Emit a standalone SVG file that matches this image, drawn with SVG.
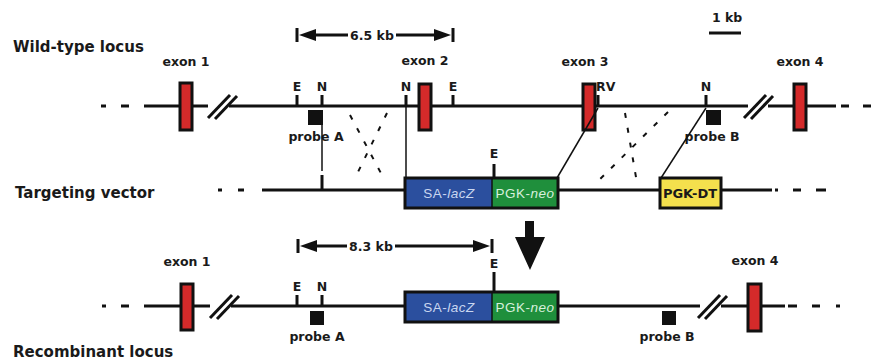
<svg xmlns="http://www.w3.org/2000/svg" width="877" height="362" viewBox="0 0 877 362">
<style>
text{font-family:"DejaVu Sans","Liberation Sans",sans-serif;font-weight:bold;fill:#1a1a1a}
.t{font-size:15px}
.l{font-size:12.5px}
.s{font-size:12.5px}
.ln{stroke:#111;stroke-width:3;fill:none}
.thin{stroke:#111;stroke-width:1.5;fill:none}
.dsh{stroke:#111;stroke-width:2;fill:none;stroke-dasharray:5 10}
.exon{fill:#d42a2a;stroke:#111;stroke-width:3}
.probe{fill:#111}
.box{font-family:"Liberation Sans",Arial,sans-serif;font-weight:normal;font-size:13.5px;letter-spacing:0.5px}
</style>
<rect width="877" height="362" fill="#fff"/>

<text class="t" x="13" y="52">Wild-type locus</text>
<text class="t" x="15" y="198">Targeting vector</text>
<text class="t" x="13" y="357">Recombinant locus</text>

<!-- scale bar -->
<g id="scale">
<text class="s" x="712" y="22">1 kb</text>
<line class="ln" x1="709" y1="33" x2="741" y2="33"/>
</g>

<!-- Wild-type locus -->
<g id="wt-line">
<line class="ln" x1="101" y1="106" x2="106" y2="106"/>
<line class="ln" x1="121" y1="106" x2="129" y2="106"/>
<line class="ln" x1="144" y1="106" x2="208" y2="106"/>
<line class="ln" x1="229" y1="106" x2="748" y2="106"/>
<line class="ln" x1="768" y1="106" x2="836" y2="106"/>
<line class="ln" x1="841" y1="106" x2="849" y2="106"/>
<line class="ln" x1="863" y1="106" x2="871" y2="106"/>
</g>
<g id="wt-break1"><line class="ln" x1="208" y1="118" x2="230" y2="95"/><line class="ln" x1="215" y1="119" x2="237" y2="96"/></g>
<g id="wt-break2"><line class="ln" x1="744" y1="118" x2="766" y2="95"/><line class="ln" x1="751" y1="119" x2="773" y2="96"/></g>
<g id="wt-exon1"><rect class="exon" x="180" y="83" width="12" height="47"/><text class="l" x="186" y="66" text-anchor="middle">exon 1</text></g>
<g id="wt-exon2"><rect class="exon" x="419" y="84" width="12" height="46"/><text class="l" x="425" y="65" text-anchor="middle">exon 2</text></g>
<g id="wt-exon3"><rect class="exon" x="583" y="84" width="12" height="46"/><text class="l" x="585" y="66" text-anchor="middle">exon 3</text></g>
<g id="wt-exon4"><rect class="exon" x="794" y="84" width="12" height="46"/><text class="l" x="800" y="66" text-anchor="middle">exon 4</text></g>
<g id="wt-sites">
<line class="ln" x1="297" y1="95" x2="297" y2="106"/><text class="l" x="297" y="91" text-anchor="middle">E</text>
<line class="ln" x1="322" y1="95" x2="322" y2="106"/><text class="l" x="322" y="91" text-anchor="middle">N</text>
<line class="ln" x1="406" y1="95" x2="406" y2="106"/><text class="l" x="406" y="91" text-anchor="middle">N</text>
<line class="ln" x1="453" y1="95" x2="453" y2="106"/><text class="l" x="453" y="91" text-anchor="middle">E</text>
<line class="ln" x1="598" y1="95" x2="598" y2="106"/><text class="l" x="596" y="91">RV</text>
<line class="ln" x1="706" y1="95" x2="706" y2="106"/><text class="l" x="706" y="91" text-anchor="middle">N</text>
</g>
<g id="wt-probeA"><rect class="probe" x="308" y="110" width="15" height="15"/><text class="l" x="316" y="141" text-anchor="middle">probe A</text></g>
<g id="wt-probeB"><rect class="probe" x="706" y="110" width="15" height="15"/><text class="l" x="712" y="141" text-anchor="middle">probe B</text></g>
<g id="dist65">
<line class="ln" x1="297" y1="28" x2="297" y2="42"/>
<line class="ln" x1="453" y1="28" x2="453" y2="42"/>
<polygon points="299,35 316,29 316,41" fill="#111"/>
<polygon points="451,35 434,29 434,41" fill="#111"/>
<line class="ln" x1="315" y1="35" x2="348" y2="35"/>
<line class="ln" x1="396" y1="35" x2="435" y2="35"/>
<text class="s" x="372" y="40" text-anchor="middle">6.5 kb</text>
</g>

<!-- Targeting vector -->
<g id="tv-line">
<line class="ln" x1="218" y1="190" x2="222" y2="190"/>
<line class="ln" x1="238" y1="190" x2="244" y2="190"/>
<line class="ln" x1="262" y1="190" x2="406" y2="190"/>
<line class="ln" x1="557" y1="190" x2="660" y2="190"/>
<line class="ln" x1="721" y1="190" x2="772" y2="190"/>
<line class="ln" x1="775" y1="190" x2="778" y2="190"/>
<line class="ln" x1="793" y1="190" x2="801" y2="190"/>
<line class="ln" x1="816" y1="190" x2="826" y2="190"/>
<line class="ln" x1="322" y1="175" x2="322" y2="190"/>
</g>
<g id="tv-cassette">
<rect x="405" y="178" width="87" height="30" fill="#2b4f9e"/>
<rect x="492" y="178" width="66" height="30" fill="#1f8f3c"/>
<rect x="405" y="178" width="153" height="30" fill="none" stroke="#111" stroke-width="3"/>
<line x1="492" y1="178" x2="492" y2="208" stroke="#111" stroke-width="1.5"/>
<text class="box" x="449" y="198" text-anchor="middle" style="fill:#c9d6f0">SA-<tspan font-style="italic">lacZ</tspan></text>
<text class="box" x="525" y="198" text-anchor="middle" style="fill:#d8f0dc">PGK-<tspan font-style="italic">neo</tspan></text>
<line class="ln" x1="494" y1="164" x2="494" y2="178"/><text class="l" x="494" y="158" text-anchor="middle">E</text>
</g>
<g id="tv-dt">
<rect x="660" y="178" width="61" height="30" fill="#f4e04d" stroke="#111" stroke-width="3"/>
<text class="l" x="690" y="198" text-anchor="middle" style="font-size:13px">PGK-DT</text>
</g>

<!-- connectors -->
<g id="connectors">
<line class="thin" x1="322" y1="125" x2="322" y2="171"/>
<line class="thin" x1="406" y1="106" x2="406" y2="178"/>
<line class="thin" x1="598" y1="108" x2="557" y2="178"/>
<line class="thin" x1="706" y1="108" x2="661" y2="178"/>
<line class="dsh" x1="350" y1="115" x2="383" y2="177"/>
<line class="dsh" x1="387" y1="113" x2="356" y2="176"/>
<line class="dsh" x1="625" y1="113" x2="637" y2="183"/>
<line class="dsh" x1="668" y1="112" x2="595" y2="184"/>
</g>

<!-- big arrow -->
<g id="arrow"><polygon points="525,221 534,221 534,237 545,237 530,270 515,237 525,237" fill="#111"/></g>

<!-- Recombinant locus -->
<g id="rc-line">
<line class="ln" x1="102" y1="306" x2="106" y2="306"/>
<line class="ln" x1="121" y1="306" x2="129" y2="306"/>
<line class="ln" x1="144" y1="306" x2="210" y2="306"/>
<line class="ln" x1="231" y1="306" x2="406" y2="306"/>
<line class="ln" x1="557" y1="306" x2="700" y2="306"/>
<line class="ln" x1="721" y1="306" x2="785" y2="306"/>
<line class="ln" x1="788" y1="306" x2="797" y2="306"/>
<line class="ln" x1="812" y1="306" x2="820" y2="306"/>
<line class="ln" x1="836" y1="306" x2="840" y2="306"/>
</g>
<g id="rc-break1"><line class="ln" x1="210" y1="318" x2="232" y2="295"/><line class="ln" x1="217" y1="319" x2="239" y2="296"/></g>
<g id="rc-break2"><line class="ln" x1="698" y1="318" x2="720" y2="295"/><line class="ln" x1="705" y1="319" x2="727" y2="296"/></g>
<g id="rc-exon1"><rect class="exon" x="181" y="284" width="12" height="46"/><text class="l" x="187" y="266" text-anchor="middle">exon 1</text></g>
<g id="rc-exon4"><rect class="exon" x="748" y="284" width="13" height="47"/><text class="l" x="755" y="265" text-anchor="middle">exon 4</text></g>
<g id="rc-sites">
<line class="ln" x1="297" y1="295" x2="297" y2="306"/><text class="l" x="297" y="291" text-anchor="middle">E</text>
<line class="ln" x1="322" y1="295" x2="322" y2="306"/><text class="l" x="322" y="291" text-anchor="middle">N</text>
<line class="ln" x1="494" y1="272" x2="494" y2="292"/><text class="l" x="494" y="268" text-anchor="middle">E</text>
</g>
<g id="rc-probeA"><rect class="probe" x="310" y="311" width="14" height="14"/><text class="l" x="317" y="341" text-anchor="middle">probe A</text></g>
<g id="rc-probeB"><rect class="probe" x="662" y="311" width="14" height="14"/><text class="l" x="667" y="341" text-anchor="middle">probe B</text></g>
<g id="rc-cassette">
<rect x="405" y="292" width="87" height="30" fill="#2b4f9e"/>
<rect x="492" y="292" width="66" height="30" fill="#1f8f3c"/>
<rect x="405" y="292" width="153" height="30" fill="none" stroke="#111" stroke-width="3"/>
<line x1="492" y1="292" x2="492" y2="322" stroke="#111" stroke-width="1.5"/>
<text class="box" x="449" y="312" text-anchor="middle" style="fill:#c9d6f0">SA-<tspan font-style="italic">lacZ</tspan></text>
<text class="box" x="525" y="312" text-anchor="middle" style="fill:#d8f0dc">PGK-<tspan font-style="italic">neo</tspan></text>
</g>
<g id="dist83">
<line class="ln" x1="298" y1="239" x2="298" y2="253"/>
<line class="ln" x1="492" y1="239" x2="492" y2="253"/>
<polygon points="300,246 317,240 317,252" fill="#111"/>
<polygon points="490,246 473,240 473,252" fill="#111"/>
<line class="ln" x1="316" y1="246" x2="347" y2="246"/>
<line class="ln" x1="395" y1="246" x2="474" y2="246"/>
<text class="s" x="371" y="251" text-anchor="middle">8.3 kb</text>
</g>
</svg>
